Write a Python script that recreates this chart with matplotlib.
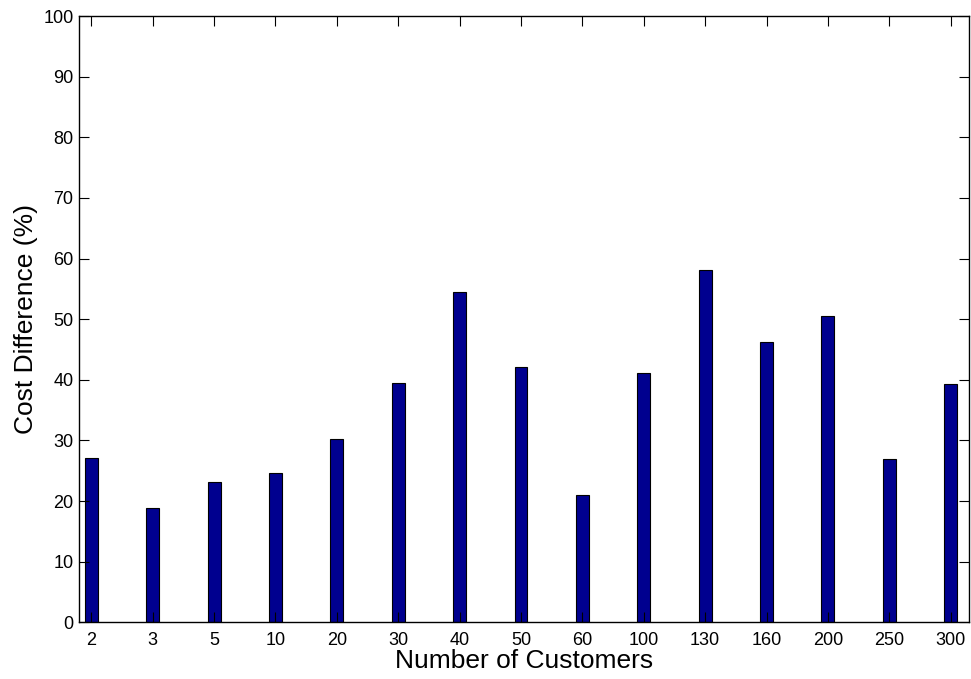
import matplotlib
matplotlib.use('Agg')
import matplotlib.pyplot as plt
import numpy as np

plt.rcParams['font.family'] = ['Liberation Sans', 'DejaVu Sans']

customers = ['2', '3', '5', '10', '20', '30', '40', '50', '60', '100',
             '130', '160', '200', '250', '300']
cost_diff = [27.1, 18.9, 23.1, 24.7, 30.2, 39.5, 54.4, 42.1, 21.0, 41.1,
             58.1, 46.2, 50.6, 26.9, 39.3]

x = np.arange(1, len(customers) + 1)

fig = plt.figure(figsize=(9.71, 6.79), dpi=100)
ax = fig.add_axes([0.0814, 0.0835, 0.9166, 0.8929])

ax.bar(x, cost_diff, width=0.21, color='#00008F', edgecolor='black', linewidth=0.8)

ax.set_xlim(0.8, 15.3)
ax.set_ylim(0, 100)
ax.set_xticks(x)
ax.set_xticklabels(customers)
ax.set_yticks(np.arange(0, 101, 10))

ax.tick_params(direction='in', top=True, right=True, length=7, width=0.8,
               labelsize=13)
ax.tick_params(axis='x', pad=7)
ax.tick_params(axis='y', pad=4)
for s in ax.spines.values():
    s.set_linewidth(1.0)

ax.set_xlabel('Number of Customers', fontsize=19, labelpad=0)
ax.set_ylabel('Cost Difference (%)', fontsize=19, labelpad=4)

fig.savefig('out.png', dpi=100)
